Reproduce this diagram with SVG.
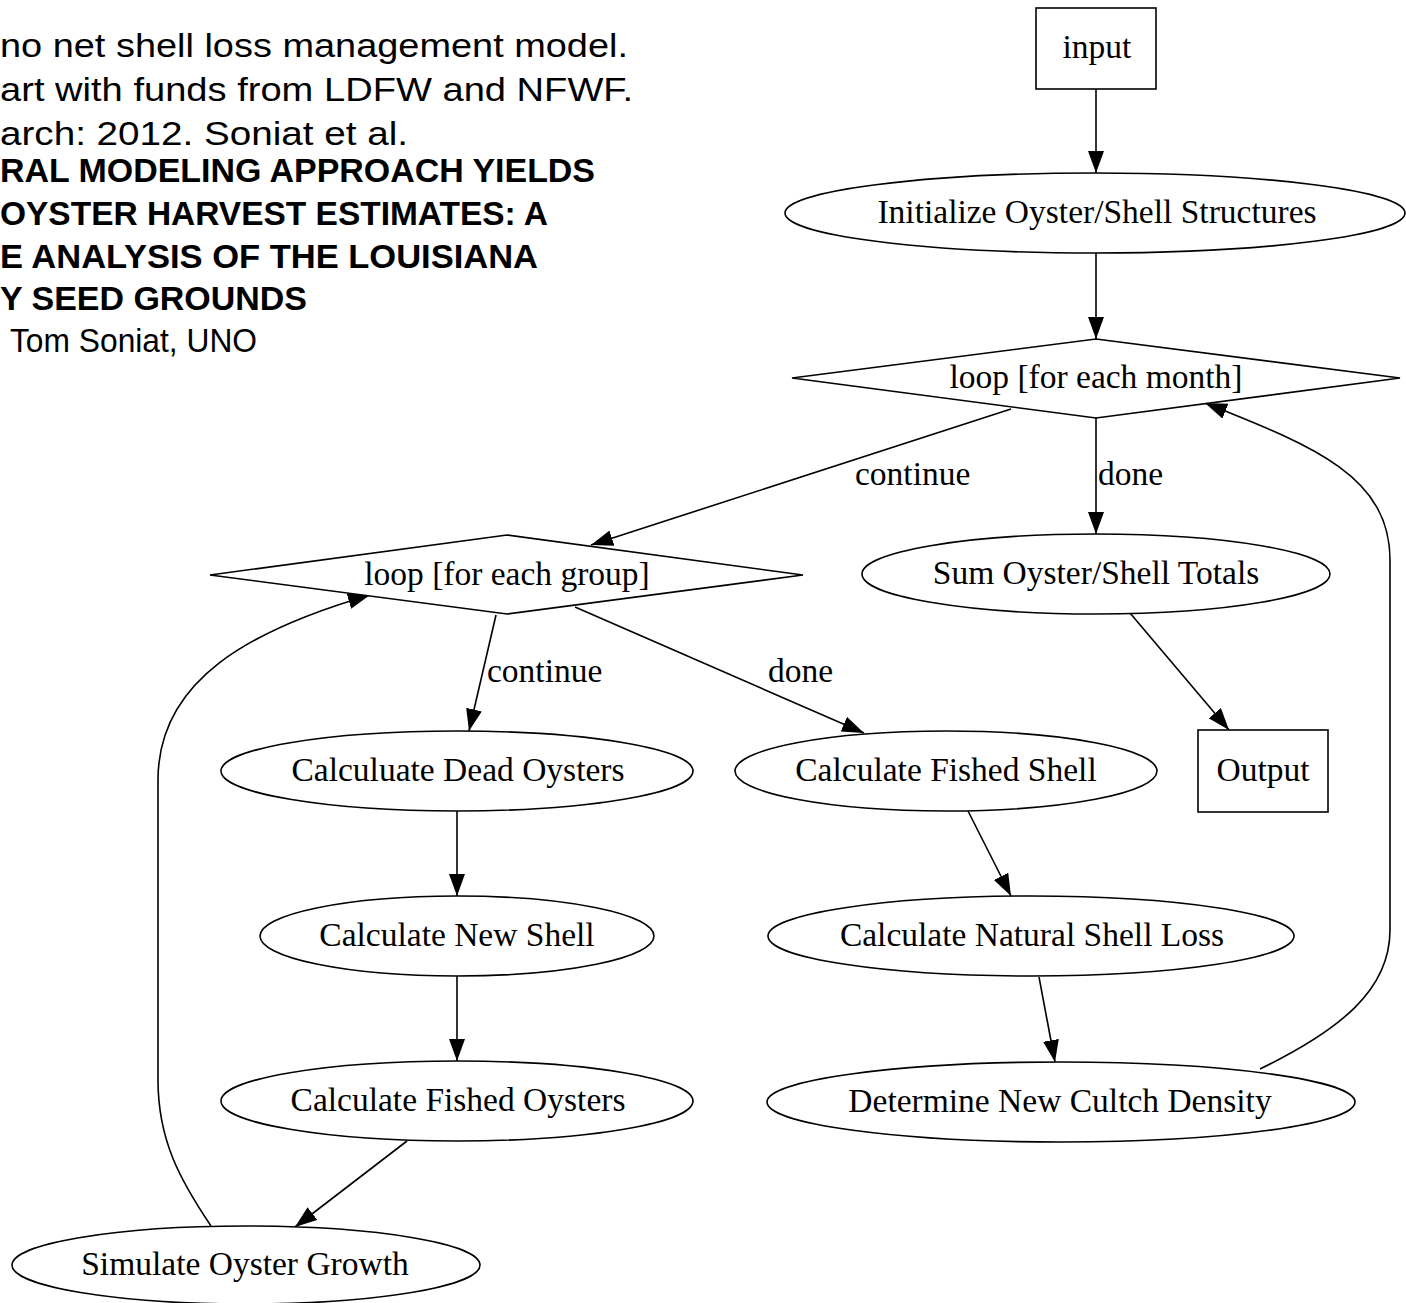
<svg xmlns="http://www.w3.org/2000/svg" width="1406" height="1303" viewBox="0 0 1406 1303">
<defs>
<style>
.shape{fill:#fff;stroke:#000;stroke-width:1.6}
.lbl{font-family:"Liberation Serif","Times New Roman",serif;font-size:33.5px;text-anchor:middle;fill:#000}
.elbl{font-family:"Liberation Serif","Times New Roman",serif;font-size:33.5px;fill:#000}
.edge{fill:none;stroke:#000;stroke-width:1.6}
.cap{font-family:"Liberation Sans",Arial,sans-serif;font-size:33px;fill:#000}
.capb{font-family:"Liberation Sans",Arial,sans-serif;font-size:33px;font-weight:bold;fill:#000}
</style>
<marker id="ah" markerWidth="24" markerHeight="18" refX="22" refY="8" orient="auto" markerUnits="userSpaceOnUse">
<path d="M0,0 L22,8 L0,16 z" fill="#000"/>
</marker>
</defs>
<rect x="0" y="0" width="1406" height="1303" fill="#fff"/>

<g id="caption">
<text class="cap" x="0" y="57" textLength="628" lengthAdjust="spacingAndGlyphs">no net shell loss management model.</text>
<text class="cap" x="0" y="101" textLength="633" lengthAdjust="spacingAndGlyphs">art with funds from LDFW and NFWF.</text>
<text class="cap" x="0" y="145" textLength="408" lengthAdjust="spacingAndGlyphs">arch: 2012. Soniat et al.</text>
<text class="capb" x="0" y="182" textLength="595" lengthAdjust="spacingAndGlyphs">RAL MODELING APPROACH YIELDS</text>
<text class="capb" x="0" y="225" textLength="548" lengthAdjust="spacingAndGlyphs">OYSTER HARVEST ESTIMATES: A</text>
<text class="capb" x="0" y="268" textLength="538" lengthAdjust="spacingAndGlyphs">E ANALYSIS OF THE LOUISIANA</text>
<text class="capb" x="0" y="310" textLength="307" lengthAdjust="spacingAndGlyphs">Y SEED GROUNDS</text>
<text class="cap" x="10" y="352" textLength="247" lengthAdjust="spacingAndGlyphs">Tom Soniat, UNO</text>
</g>

<g id="edges">
<path class="edge" d="M1096,89 V173" marker-end="url(#ah)"/>
<path class="edge" d="M1096,253 V339" marker-end="url(#ah)"/>
<path class="edge" d="M1011,409 L591,545" marker-end="url(#ah)"/>
<path class="edge" d="M1096,418 V534" marker-end="url(#ah)"/>
<path class="edge" d="M1130,613 L1229,730" marker-end="url(#ah)"/>
<path class="edge" d="M496,615 L469,731" marker-end="url(#ah)"/>
<path class="edge" d="M575,607 L864,733" marker-end="url(#ah)"/>
<path class="edge" d="M457,811 V896" marker-end="url(#ah)"/>
<path class="edge" d="M457,976 V1061" marker-end="url(#ah)"/>
<path class="edge" d="M407,1141 L295,1227" marker-end="url(#ah)"/>
<path class="edge" d="M211,1226 C180,1180 158,1140 158,1080 L158,780 C158,680 250,630 370,595" marker-end="url(#ah)"/>
<path class="edge" d="M968,811 L1011,896" marker-end="url(#ah)"/>
<path class="edge" d="M1039,977 L1055,1062" marker-end="url(#ah)"/>
<path class="edge" d="M1260,1069 C1340,1030 1390,990 1390,930 L1390,560 C1390,475 1310,445 1205,403" marker-end="url(#ah)"/>
<text class="elbl" x="855" y="485">continue</text>
<text class="elbl" x="1098" y="485">done</text>
<text class="elbl" x="487" y="682">continue</text>
<text class="elbl" x="768" y="682">done</text>
</g>

<g id="input">
<rect class="shape" x="1036" y="8" width="120" height="81"/>
<text class="lbl" x="1097" y="58">input</text>
</g>
<g id="initialize">
<ellipse class="shape" cx="1095" cy="213" rx="310" ry="40"/>
<text class="lbl" x="1097" y="223">Initialize Oyster/Shell Structures</text>
</g>
<g id="loop_month">
<polygon class="shape" points="1096,339 1400,378 1096,418 792,378"/>
<text class="lbl" x="1096" y="388">loop [for each month]</text>
</g>
<g id="sum">
<ellipse class="shape" cx="1096" cy="574" rx="234" ry="40"/>
<text class="lbl" x="1096" y="584">Sum Oyster/Shell Totals</text>
</g>
<g id="output">
<rect class="shape" x="1198" y="730" width="130" height="82"/>
<text class="lbl" x="1263" y="781">Output</text>
</g>
<g id="loop_group">
<polygon class="shape" points="507,535 803,575 507,614 210,575"/>
<text class="lbl" x="507" y="585">loop [for each group]</text>
</g>
<g id="dead">
<ellipse class="shape" cx="457" cy="771" rx="236" ry="40"/>
<text class="lbl" x="458" y="781">Calculuate Dead Oysters</text>
</g>
<g id="fished_shell">
<ellipse class="shape" cx="946" cy="771" rx="211" ry="40"/>
<text class="lbl" x="946" y="781">Calculate Fished Shell</text>
</g>
<g id="new_shell">
<ellipse class="shape" cx="457" cy="936" rx="197" ry="40"/>
<text class="lbl" x="457" y="946">Calculate New Shell</text>
</g>
<g id="natural">
<ellipse class="shape" cx="1031" cy="936" rx="263" ry="40"/>
<text class="lbl" x="1032" y="946">Calculate Natural Shell Loss</text>
</g>
<g id="fished_oysters">
<ellipse class="shape" cx="457" cy="1101" rx="236" ry="40"/>
<text class="lbl" x="458" y="1111">Calculate Fished Oysters</text>
</g>
<g id="determine">
<ellipse class="shape" cx="1061" cy="1102" rx="294" ry="40"/>
<text class="lbl" x="1060" y="1112">Determine New Cultch Density</text>
</g>
<g id="simulate">
<ellipse class="shape" cx="246" cy="1265" rx="234" ry="39"/>
<text class="lbl" x="245" y="1275">Simulate Oyster Growth</text>
</g>
</svg>
